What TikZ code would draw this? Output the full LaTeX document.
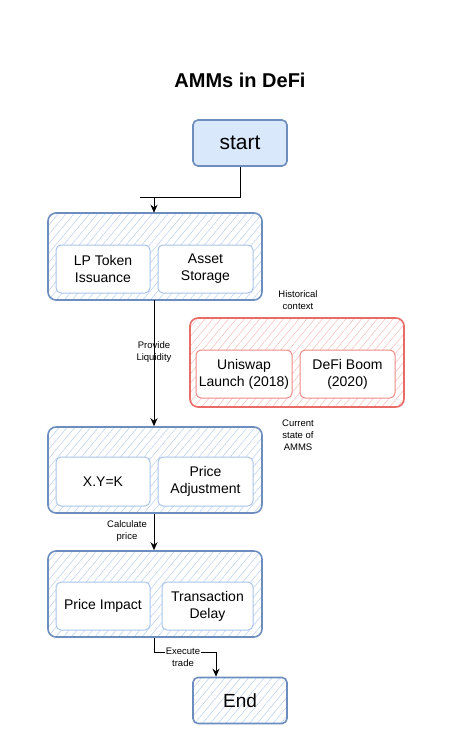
\documentclass[tikz,border=0pt]{standalone}
\usepackage{fontspec}
\setmainfont{Liberation Sans}
\usetikzlibrary{patterns.meta,arrows.meta}
\definecolor{bstroke}{HTML}{6C8EBF}
\definecolor{bfill}{HTML}{DAE8FC}
\definecolor{bhatch}{HTML}{B9CFEF}
\definecolor{binner}{HTML}{A9C4EB}
\definecolor{rstroke}{HTML}{EA6B66}
\definecolor{rhatch}{HTML}{F5BDBB}
\tikzset{
  groupbox/.style={draw=bstroke,line width=1.6pt,rounded corners=8pt,
    pattern={Lines[angle=50,distance=6pt,line width=0.5pt]},pattern color=bhatch,
    inner sep=0pt},
  redbox/.style={draw=rstroke,line width=1.6pt,rounded corners=8pt,
    pattern={Lines[angle=50,distance=6pt,line width=0.5pt]},pattern color=rhatch,
    inner sep=0pt},
  innerbox/.style={draw=binner,line width=1pt,fill=white,rounded corners=5pt,
    minimum width=94pt,minimum height=48pt,align=center,inner sep=1pt,
    font=\fontsize{14}{17}\selectfont},
  innerred/.style={innerbox,draw=rstroke!80},
  termbox/.style={draw=bstroke,line width=1.6pt,rounded corners=5pt,
    minimum width=94pt,minimum height=46pt},
  small/.style={font=\fontsize{9.5}{12}\selectfont,align=center},
  arr/.style={draw=black,line width=1pt,-{Stealth[length=8pt,width=7pt]}},
  ln/.style={draw=black,line width=1pt}
}
\begin{document}
\begin{tikzpicture}[x=1pt,y=-1pt]
\useasboundingbox (0,0) rectangle (468,750);
\fill[white] (0,0) rectangle (468,750);

\node[font=\bfseries\fontsize{20}{24}\selectfont] (title) at (240,80) {AMMs in DeFi};

\node[termbox,fill=bfill,font=\fontsize{21}{25}\selectfont] (start) at (240,143) {start};

\node[groupbox,minimum width=214pt,minimum height=87pt] (g1) at (155,256.5) {};
\node[innerbox] (lp) at (103,269) {LP Token\\Issuance};
\node[innerbox,minimum width=95pt] (as) at (205.5,269) {Asset\\Storage};

\node[small] (hist) at (298,300) {Historical\\context};

\node[redbox,minimum width=214pt,minimum height=89pt] (red) at (297,362.5) {};
\node[innerred,minimum width=96pt] (uni) at (244,374) {Uniswap\\Launch (2018)};
\node[innerred,minimum width=95pt] (boom) at (347.5,374) {DeFi Boom\\(2020)};

\node[small] (cur) at (298,435) {Current\\state of\\AMMS};

\node[groupbox,minimum width=214pt,minimum height=86pt] (g2) at (155,470) {};
\node[innerbox,minimum height=49pt] (xyk) at (103,481.5) {X.Y=K};
\node[innerbox,minimum width=95pt,minimum height=49pt] (pa) at (205.5,481.5) {Price\\Adjustment};

\node[groupbox,minimum width=214pt,minimum height=86pt] (g3) at (155,594) {};
\node[innerbox] (pi) at (103,606) {Price Impact};
\node[innerbox,minimum width=91pt] (td) at (207.5,606) {Transaction\\Delay};

\node[termbox,font=\fontsize{19}{23}\selectfont,pattern={Lines[angle=50,distance=6pt,line width=0.5pt]},pattern color=bhatch] (end) at (240,700.5) {End};

% start -> g1
\coordinate (j1) at (140,197);
\coordinate (j1b) at (154,197);
\draw[ln] (start.south) |- (j1);
\draw[arr] (j1b) -- (g1.north -| j1b);

% g1 -> g2
\draw[arr] (g1.south -| j1b) -- (g2.north -| j1b);
\node[small] (pl) at (154,352) {Provide\\Liquidity};

% g2 -> g3
\draw[arr] (g2.south -| j1b) -- (g3.north -| j1b);
\node[small] (cp) at (127,531) {Calculate\\price};

% g3 -> end
\coordinate (j3) at (154,652);
\coordinate (j4) at (216,652);
\draw[ln] (g3.south -| j3) -- (j3) -- (j4);
\draw[arr] (j4) -- (end.north -| j4);
\node[small,fill=white,inner sep=1pt] (et) at (183,657) {Execute\\trade};
\end{tikzpicture}
\end{document}
